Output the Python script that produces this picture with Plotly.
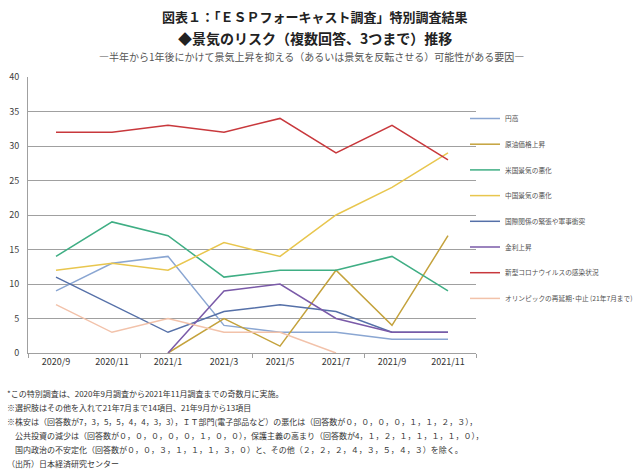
import plotly.graph_objects as go

categories = ["2020/9", "2020/11", "2021/1", "2021/3", "2021/5", "2021/7", "2021/9", "2021/11"]

yen_high = [9, 13, 14, 4, 3, 3, 2, 2]
oil_price = [None, None, 0, 5, 1, 12, 4, 17]
us_economy = [14, 19, 17, 11, 12, 12, 14, 9]
china_economy = [12, 13, 12, 16, 14, 20, 24, 29]
geopolitics = [11, 7, 3, 6, 7, 6, 3, 3]
rate_rise = [None, None, 0, 9, 10, 5, 3, 3]
covid = [32, 32, 33, 32, 34, 29, 33, 28]
olympics = [7, 3, 5, 3, 3, 0, None, None]

series_names = [
    "円高",
    "原油価格上昇",
    "米国景気の悪化",
    "中国景気の悪化",
    "国際関係の緊張や軍事衝突",
    "金利上昇",
    "新型コロナウイルスの感染状況",
    "オリンピックの再延期･中止 (21年7月まで)",
]
series_values = [yen_high, oil_price, us_economy, china_economy, geopolitics, rate_rise, covid, olympics]
series_colors = ["#8aa6d2", "#c4a23c", "#3fae84", "#e8c64e", "#5570a8", "#7a5aa8", "#c8383c", "#f2c2aa"]

y_ticks = [0, 5, 10, 15, 20, 25, 30, 35, 40]

title_lines = [
    "図表１：「ＥＳＰフォーキャスト調査」特別調査結果",
    "◆景気のリスク（複数回答、3つまで）推移",
    "―半年から1年後にかけて景気上昇を抑える（あるいは景気を反転させる）可能性がある要因―",
]
footnotes = [
    "*この特別調査は、2020年9月調査から2021年11月調査までの奇数月に実施。",
    "※選択肢はその他を入れて21年7月まで14項目、21年9月から13項目",
    "※株安は（回答数が7，3，5，5，4，4，3，3），ＩＴ部門(電子部品など）の悪化は（回答数が０，０，０，０，１，１，２，３），",
    "　公共投資の減少は（回答数が０，０，０，０，０，１，０，０），保護主義の高まり（回答数が4，１，２，１，１，１，１，０），",
    "　国内政治の不安定化（回答数が０，０，３，１，１，１，３，０）と、その他（２，２，２，４，３，５，４，３）を除く。",
    "（出所）日本経済研究センター",
]

FONT = "Noto Sans CJK JP"
xpos = list(range(len(categories)))

fig = go.Figure()
for i, (name, vals, col) in enumerate(zip(series_names, series_values, series_colors)):
    fig.add_trace(go.Scatter(
        x=xpos, y=vals, name=name, mode="lines",
        line=dict(color=col, width=1.5),
        legendgroup=f"g{i}",
        connectgaps=False,
    ))

L, R, T, B = 28, 164, 77, 117
W, H = 640, 470
pw = W - L - R
ph = H - T - B

def px(x):
    return (x - L) / pw

def py(y):
    return (H - B - y) / ph

annotations = []
title_specs = [(17, 13, 315, "#222222", True), (38, 14, 315, "#222222", True), (56, 10, 311, "#555555", False)]
for text, (yy, size, cx, col, bold) in zip(title_lines, title_specs):
    annotations.append(dict(
        xref="paper", yref="paper", x=px(cx), y=py(yy),
        xanchor="center", yanchor="middle", showarrow=False,
        text=f"<b>{text}</b>" if bold else text,
        font=dict(family=FONT, size=size, color=col),
    ))
for k, text in enumerate(footnotes):
    annotations.append(dict(
        xref="paper", yref="paper", x=px(5), y=py(393 + k * 14.0),
        xanchor="left", yanchor="middle", showarrow=False,
        text=text, font=dict(family=FONT, size=8, color="#333333"),
    ))

fig.update_layout(
    width=W, height=H,
    margin=dict(l=L, r=R, t=T, b=B, pad=0, autoexpand=False),
    paper_bgcolor="white", plot_bgcolor="white",
    font=dict(family=FONT, size=9, color="#404040"),
    showlegend=True,
    legend=dict(
        x=px(465), y=py(104), xanchor="left", yanchor="top",
        font=dict(family=FONT, size=6.7, color="#505050"),
        tracegroupgap=6.7, itemwidth=30,
        bgcolor="rgba(0,0,0,0)",
    ),
    annotations=annotations,
)
fig.update_xaxes(
    range=[-0.5, len(categories) - 0.5],
    tickmode="array", tickvals=xpos, ticktext=categories,
    ticks="", showgrid=False, zeroline=False,
    showline=True, linecolor="#a0a0a0", linewidth=1,
    tickfont=dict(family=FONT, size=9, color="#333333"),
    minor=dict(ticks="outside", ticklen=4, tickcolor="#a0a0a0", tickmode="linear", tick0=-0.5, dtick=2, showgrid=False),
    fixedrange=True,
)
fig.update_yaxes(
    range=[0, 40], tickmode="array", tickvals=y_ticks,
    showgrid=True, gridcolor="#a0a0a0", gridwidth=1,
    zeroline=False, showline=True, linecolor="#a0a0a0", linewidth=1,
    ticks="", ticklabelstandoff=6,
    tickfont=dict(family=FONT, size=9, color="#404040"),
    fixedrange=True,
)

fig.write_html(
    "out.html",
    config={"displayModeBar": False, "staticPlot": True},
    post_script="document.body.style.margin='0';document.body.style.padding='0';",
)
